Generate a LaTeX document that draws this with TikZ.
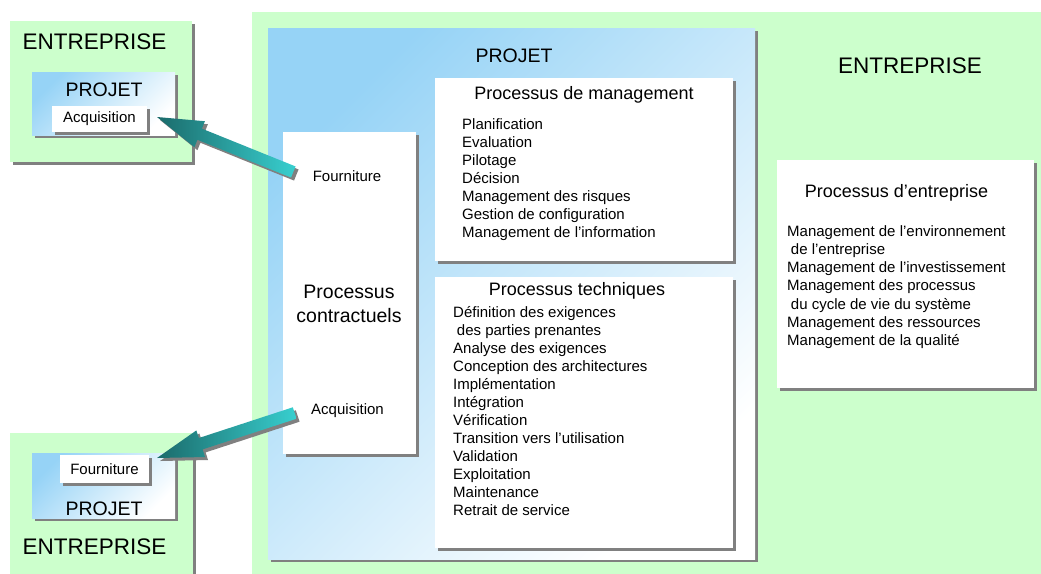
\documentclass[tikz,border=0pt]{standalone}
\usepackage{fontspec}
\setmainfont{Liberation Sans}
\usetikzlibrary{calc, shadows}
\definecolor{vertent}{HTML}{CCFFCC}
\definecolor{bleuproj}{HTML}{96D3F6}
\definecolor{sarcelle}{HTML}{1B6B6B}
\definecolor{turquoise}{HTML}{38CFCF}
\definecolor{ombregris}{HTML}{808080}
\tikzset{ombre/.style={drop shadow={shadow xshift=3pt,shadow yshift=-3pt,fill=ombregris,opacity=1}},
         zone/.style={anchor=north west,inner sep=0pt,outer sep=0pt},
         entreprise/.style={zone,fill=vertent,ombre},
         projet/.style={zone,top color=bleuproj,bottom color=white,shading angle=45,ombre},
         boite/.style={zone,fill=white,ombre},
         grand/.style={font=\fontsize{22.5}{27}\selectfont},
         moyen/.style={font=\fontsize{19.5}{24}\selectfont},
         titre/.style={font=\fontsize{18}{22}\selectfont},
         petit/.style={font=\fontsize{15}{18}\selectfont},
         liste/.style={anchor=north west,inner sep=0pt,align=left,font=\fontsize{15}{18}\selectfont},
         fleche/.style={left color=sarcelle,right color=turquoise,ombre},
        }
% fleche epaisse de #1 (queue) vers #2 (pointe)
\newcommand{\flechebloc}[2]{%
  \path ($(#2)!46pt!(#1)$) coordinate (fb);
  \shade[fleche] ($(#1)!6pt!90:(#2)$) -- ($(fb)!6pt!-90:(#1)$) -- ($(fb)!14pt!-90:(#1)$) -- (#2)
    -- ($(fb)!14pt!90:(#1)$) -- ($(fb)!6pt!90:(#1)$) -- ($(#1)!6pt!-90:(#2)$) -- cycle;}

\begin{document}
\begin{tikzpicture}[x=1pt,y=-1pt]
        \useasboundingbox[fill=white] (0,0) rectangle (1041,573);
        % entreprise en haut a gauche
        \node[entreprise,minimum width=182pt,minimum height=141pt](entA)at(10,21){};
        \node[grand](entAtxt)at(94.5,41.5){ENTREPRISE};
        \node[projet,minimum width=143pt,minimum height=63pt](projA)at(32,72){};
        \node[moyen](projAtxt)at(104,90){PROJET};
        \node[boite,petit,minimum width=95pt,minimum height=26pt](acqA)at(52,106){Acquisition};
        % entreprise en bas a gauche
        \node[entreprise,minimum width=183pt,minimum height=142pt](entB)at(10,433){};
        \node[projet,minimum width=143pt,minimum height=65pt](projB)at(32,453){};
        \node[boite,petit,minimum width=89pt,minimum height=28pt](fournB)at(60,455){Fourniture};
        \node[moyen](projBtxt)at(104,509){PROJET};
        \node[grand](entBtxt)at(94.5,547){ENTREPRISE};
        % entreprise principale
        \node[entreprise,minimum width=800pt,minimum height=563pt](entC)at(252,12){};
        \node[grand](entCtxt)at(910,66){ENTREPRISE};
        \node[projet,minimum width=487pt,minimum height=531pt](projC)at(268,28){};
        \node[moyen](projCtxt)at(514,56){PROJET};
        \node[boite,minimum width=133pt,minimum height=322pt](contrat)at(283,132){};
        \node[petit](fournC)at(347,176){Fourniture};
        \node[moyen,align=center](contrattxt)at(349,304){Processus\\contractuels};
        \node[petit](acqC)at(347.5,411){Acquisition};
        \node[boite,minimum width=298pt,minimum height=183pt](mgt)at(435,78){};
        \node[titre](mgttxt)at(584,95){Processus de management};
        \node[liste](mgtliste)at(462,118){Planification\\Evaluation\\Pilotage\\Décision\\Management des risques\\Gestion de configuration\\Management de l'information};
        \node[boite,minimum width=298pt,minimum height=271pt](tech)at(435,277){};
        \node[titre](techtxt)at(577,291){Processus techniques};
        \node[liste](techliste)at(453,306){Définition des exigences\\\hspace{0.25em}des parties prenantes\\Analyse des exigences\\Conception des architectures\\Implémentation\\Intégration\\Vérification\\Transition vers l'utilisation\\Validation\\Exploitation\\Maintenance\\Retrait de service};
        \node[boite,minimum width=257pt,minimum height=228pt](entproc)at(777,160){};
        \node[titre](entproctxt)at(896.5,193){Processus d’entreprise};
        \node[liste,font=\fontsize{15}{18.3}\selectfont](entprocliste)at(787,225){Management de l’environnement\\\hspace{0.25em}de l'entreprise\\Management de l’investissement\\Management des processus\\\hspace{0.25em}du cycle de vie du système\\Management des ressources\\Management de la qualité};
        % fleches
        \coordinate(queueF)at($(fournC.west)+(-16,-4)$);
        \coordinate(pointeF)at($(acqA.east)+(10,-2)$);
        \flechebloc{queueF}{pointeF}
        \coordinate(queueA)at($(acqC.west)+(-13,2)$);
        \coordinate(pointeA)at($(fournB.north east)+(8,3)$);
        \flechebloc{queueA}{pointeA}
    \end{tikzpicture}
\end{document}
